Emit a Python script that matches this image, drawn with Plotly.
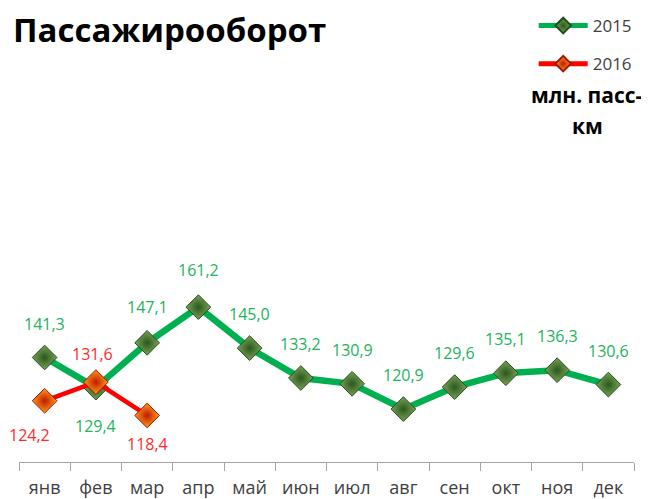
import plotly.graph_objects as go

months = ["янв", "фев", "мар", "апр", "май", "июн", "июл", "авг", "сен", "окт", "ноя", "дек"]
values_2015 = [141.3, 129.4, 147.1, 161.2, 145.0, 133.2, 130.9, 120.9, 129.6, 135.1, 136.3, 130.6]
values_2016 = [124.2, 131.6, 118.4]
months_2016 = months[:3]

label_shift_2015 = [-34, 38, -36, -37, -34, -34, -34, -34, -34, -34, -34, -34]
label_shift_2016 = [(-15, 34), (-3, -28), (0, 29)]

GREEN = "#00b050"
GREEN_TXT = "#22b35c"
RED = "#ff0000"
RED_TXT = "#ff2a2a"
FONT = "Open Sans"

W, H = 649, 499
OFF = 8  # page offset of the figure inside the browser window
ML, MR, MT, MB = 11, 23, 201, 45
PW, PH = W - ML - MR, H - MT - MB


def px_x(sx):
    return (sx - OFF - ML) / PW


def px_y(sy):
    return (H - MB - (sy - OFF)) / PH


fig = go.Figure()
fig.add_trace(go.Scatter(
    x=months, y=values_2015, name="2015", mode="lines+markers",
    line=dict(color=GREEN, width=6.5),
    marker=dict(symbol="diamond", size=19, color="#79a355",
                gradient=dict(type="radial", color="#2a571f"),
                line=dict(color="#234d1b", width=1)),
    legendgroup="a",
))
fig.add_trace(go.Scatter(
    x=months_2016, y=values_2016, name="2016", mode="lines+markers",
    line=dict(color=RED, width=4.5),
    marker=dict(symbol="diamond", size=19, color="#ff9c1c",
                gradient=dict(type="radial", color="#c01a00"),
                line=dict(color="#a01500", width=1)),
    legendgroup="b",
))

for m, v, dy in zip(months, values_2015, label_shift_2015):
    fig.add_annotation(x=m, y=v, text=f"{v:.1f}".replace(".", ","), showarrow=False,
                       yshift=-dy, font=dict(family=FONT, size=16, color=GREEN_TXT))
for m, v, (dx, dy) in zip(months_2016, values_2016, label_shift_2016):
    fig.add_annotation(x=m, y=v, text=f"{v:.1f}".replace(".", ","), showarrow=False,
                       xshift=dx, yshift=-dy, font=dict(family=FONT, size=16, color=RED_TXT))

fig.add_annotation(xref="paper", yref="paper", x=px_x(11), y=px_y(29), xanchor="left", yanchor="middle",
                   text="<b>Пассажирооборот</b>", showarrow=False,
                   font=dict(family=FONT, size=33, color="#000000"))
fig.add_annotation(xref="paper", yref="paper", x=px_x(587), y=px_y(95), xanchor="center", yanchor="middle",
                   text="<b>млн. пасс-</b>", showarrow=False,
                   font=dict(family=FONT, size=21, color="#000000"))
fig.add_annotation(xref="paper", yref="paper", x=px_x(587), y=px_y(126), xanchor="center", yanchor="middle",
                   text="<b>км</b>", showarrow=False,
                   font=dict(family=FONT, size=21, color="#000000"))

fig.update_layout(
    width=W, height=H,
    margin=dict(l=ML, r=MR, t=MT, b=MB, autoexpand=False),
    paper_bgcolor="white", plot_bgcolor="white",
    showlegend=True,
    legend=dict(xref="container", yref="container", x=0.81, y=1.0, xanchor="left", yanchor="top",
                font=dict(family=FONT, size=17, color="#404040"), tracegroupgap=13,
                itemwidth=49, itemsizing="constant", bgcolor="rgba(0,0,0,0)"),
    xaxis=dict(type="category", categoryorder="array", categoryarray=months,
               range=[-0.5, len(months) - 0.5],
               showgrid=False, showline=True, linecolor="#a6a6a6", linewidth=1,
               ticks="outside", tickson="boundaries", ticklen=8, tickcolor="#a6a6a6",
               tickangle=0, automargin=False, ticklabelstandoff=9,
               tickfont=dict(family=FONT, size=18, color="#404040"), zeroline=False),
    yaxis=dict(range=[100, 200], visible=False, showgrid=False, zeroline=False, automargin=False),
)

fig.write_html("out.html")
